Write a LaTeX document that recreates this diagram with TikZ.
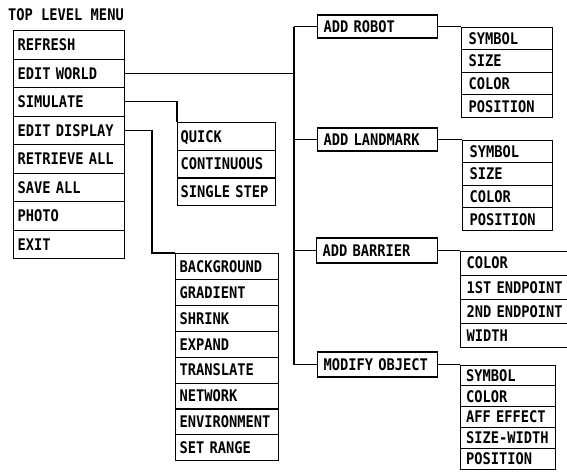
\documentclass[tikz,border=0pt]{standalone}
\usepackage{fontspec}
\newfontfamily\pix[FakeStretch=0.857]{DejaVu Sans Mono}
\tikzset{
  menutext/.style={font=\fontsize{16}{18}\pix\bfseries},
  cell/.style n args={3}{draw, line width=1.1pt, anchor=north west, menutext,
    text width=#1, minimum height=#2, inner xsep=#3, inner ysep=0pt,
    align=left, text height=11.7pt, text depth=0pt},
  conn/.style={draw, line width=1.1pt}
}
\begin{document}
\begin{tikzpicture}[x=1pt,y=-1pt]
\useasboundingbox (0,0) rectangle (567,471);
\clip (0,0) rectangle (567,471);
% title
\node[menutext, anchor=west, inner sep=0pt] (title) at (8,15) {TOP LEVEL MENU};
% main menu
\foreach \t [count=\i] in {REFRESH,EDIT WORLD,SIMULATE,EDIT DISPLAY,RETRIEVE ALL,SAVE ALL,PHOTO,EXIT}
  \node[cell={103pt}{28.5pt}{4pt}] (m\i) at (13,{30+(\i-1)*28.5}) {\t};
% simulate submenu
\foreach \t [count=\i] in {QUICK,CONTINUOUS,SINGLE STEP}
  \node[cell={92pt}{27.7pt}{3pt}] (q\i) at (177,{122+(\i-1)*27.7}) {\t};
% display submenu
\foreach \t [count=\i] in {BACKGROUND,GRADIENT,SHRINK,EXPAND,TRANSLATE,NETWORK,ENVIRONMENT,SET RANGE}
  \node[cell={95pt}{25.9pt}{4pt}] (d\i) at (175,{253+(\i-1)*25.9}) {\t};
% edit world submenu
\node[cell={108pt}{23pt}{6pt}, anchor=west] (arobot) at (317,26.5) {ADD ROBOT};
\node[cell={108pt}{23pt}{6pt}, anchor=west] (alandmark) at (317,139.5) {ADD LANDMARK};
\node[cell={109pt}{25pt}{6pt}, anchor=west] (abarrier) at (316,250.5) {ADD BARRIER};
\node[cell={108pt}{25pt}{6pt}, anchor=west] (amodify) at (317,364.5) {MODIFY OBJECT};
% property lists
\foreach \t [count=\i] in {SYMBOL,SIZE,COLOR,POSITION}
  \node[cell={77pt}{22.6pt}{7pt}] (r\i) at (461,{26.5+(\i-1)*22.6}) {\t};
\foreach \t [count=\i] in {SYMBOL,SIZE,COLOR,POSITION}
  \node[cell={76pt}{22.6pt}{7pt}] (l\i) at (462,{139.5+(\i-1)*22.6}) {\t};
\foreach \t [count=\i] in {COLOR,1ST ENDPOINT,2ND ENDPOINT,WIDTH}
  \node[cell={103pt}{24.1pt}{6pt}] (b\i) at (460,{250.5+(\i-1)*24.1}) {\t};
\foreach \t [count=\i] in {SYMBOL,COLOR,AFF EFFECT,SIZE-WIDTH,POSITION}
  \node[cell={84pt}{20.8pt}{5.5pt}] (o\i) at (460,{364.5+(\i-1)*20.8}) {\t};
% connectors
\coordinate (bus) at (294,0);
\coordinate (dbend) at (152,0);
\draw[conn] (m2.east) -- (m2.east -| bus);
\draw[conn] (arobot.west -| bus) -- (amodify.west -| bus);
\foreach \n in {arobot,alandmark,abarrier,amodify}
  \draw[conn] (\n.west -| bus) -- (\n.west);
\draw[conn] (m3.east) -| (q1.north west);
\draw[conn] (m4.east) -- (m4.east -| dbend) |- (d1.north west);
\draw[conn] (arobot.east) -- (r1.north west);
\draw[conn] (alandmark.east) -- (l1.north west);
\draw[conn] (abarrier.east) -- (b1.north west);
\draw[conn] (amodify.east) -- (o1.north west);
\end{tikzpicture}
\end{document}
